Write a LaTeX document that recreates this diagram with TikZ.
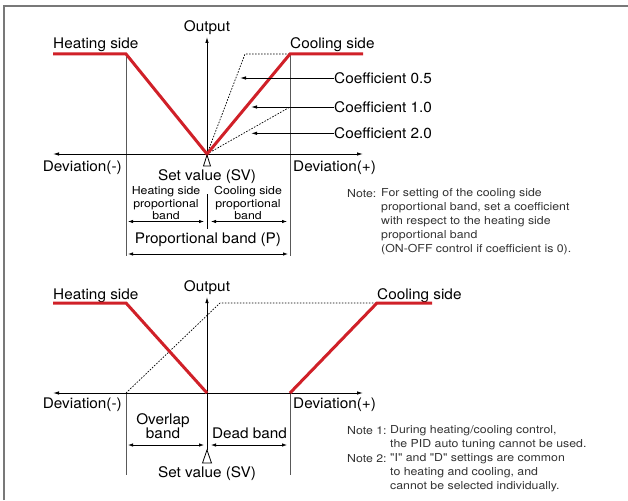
\documentclass[tikz,border=0pt]{standalone}
\usepackage{fontspec}
\setmainfont[FakeStretch=1.05]{TeX Gyre Heros}
\newfontfamily\notefont[FakeStretch=1.12]{TeX Gyre Heros}
\usetikzlibrary{arrows.meta}
\definecolor{heatred}{RGB}{208,32,40}
\definecolor{framegray}{RGB}{120,120,120}

\begin{document}
\begin{tikzpicture}[x = 1pt, y = -1pt]
    \tikzstyle{every node} = [inner sep = 0pt];
    \tikzstyle{lbl} = [font = \fontsize{14.6}{17}\selectfont];
    \tikzstyle{bandlbl} = [font = \notefont\fontsize{11}{12.5}\selectfont, align = center, anchor = north];
    \tikzstyle{notelbl} = [font = \notefont\fontsize{11}{14}\selectfont, text = black!80, align = left];
    \tikzstyle{redline} = [draw = heatred, line width = 3pt];
    \tikzstyle{axisarrow} = [line width = .9pt, -{Latex[length = 6pt, width = 3.5pt]}];
    \tikzstyle{bandarrow} = [line width = .8pt, {Latex[length = 5pt, width = 3.5pt]}-{Latex[length = 5pt, width = 3.5pt]}];
    \tikzstyle{guide} = [draw = black!65, line width = .8pt];
    \tikzstyle{slope} = [dash pattern = on 1.6pt off 1.4pt, line width = .7pt];
    \useasboundingbox (0,0) rectangle (628,500);
    % frame:
    \draw[framegray, line width = 1.6pt] (4,500) -- (4,6) -- (628,6);

    % upper graph, points:
    \coordinate (sv1) at (207,154);
    \coordinate (devl1) at (53,154);
    \coordinate (devr1) at (363,154);
    \coordinate (out1) at (207,37);
    \coordinate (hs1) at (53,54);
    \coordinate (hk1) at (126,54);
    \coordinate (ck1) at (290,54);
    \coordinate (cs1) at (363,54);
    \coordinate (k05) at (245,54);
    \coordinate (k20) at (290,107);
    \coordinate (hb1) at (126,256);
    \coordinate (cb1) at (290,256);
    \coordinate (mt1) at (207,194);
    \coordinate (mb1) at (207,229);
    \coordinate (tip05) at (240,78);
    \coordinate (tip10) at (251,107);
    \coordinate (tip20) at (251,133.3);
    % upper graph, labels:
    \node[lbl, anchor = base] (outlbl1) at (207,32) {Output};
    \node[lbl, anchor = base west] (heat1) at (53,49) {Heating side};
    \node[lbl, anchor = base west] (cool1) at (290,49) {Cooling side};
    \node[lbl, anchor = west] (c05) at (334,78) {Coefficient 0.5};
    \node[lbl, anchor = west] (c10) at (334,107) {Coefficient 1.0};
    \node[lbl, anchor = west] (c20) at (334,133.3) {Coefficient 2.0};
    \node[lbl, anchor = base east] (devm1) at (122,171) {Deviation(-)};
    \node[lbl, anchor = base west] (devp1) at (293,171) {Deviation(+)};
    \node[lbl, anchor = base] (svlbl1) at (207,180) {Set value (SV)};
    \node[bandlbl] (hband) at (166,186.5) {Heating side\\proportional\\band};
    \node[bandlbl] (cband) at (248,186.5) {Cooling side\\proportional\\band};
    \node[lbl, anchor = base] (pband) at (208,243) {Proportional band (P)};
    \node[notelbl, anchor = base west] (note0) at (347,197) {Note:};
    \node[notelbl, anchor = north west] (note0txt) at (381,188.7)
        {For setting of the cooling side\\proportional band, set a coefficient\\with respect to the heating side\\proportional band\\(ON-OFF control if coefficient is 0).};
    % upper graph, lines:
    \draw[guide] (hk1) -- (hb1);
    \draw[guide] (ck1) -- (cb1);
    \draw[line width = .9pt] (mt1) -- (mb1);
    \draw[axisarrow] (sv1) -- (out1);
    \draw[line width = .9pt, {Latex[length = 6pt, width = 3.5pt]}-{Latex[length = 6pt, width = 3.5pt]}] (devl1) -- (devr1);
    \draw[slope] (sv1) -- (k05) -- (ck1);
    \draw[slope] (sv1) -- (k20);
    \draw[redline] (hs1) -- (hk1) -- (sv1) -- (ck1) -- (cs1);
    \draw[axisarrow] (c05.west) -- (tip05);
    \draw[axisarrow] (c10.west) -- (tip10);
    \draw[axisarrow] (c20.west) -- (tip20);
    \draw[line width = .8pt] (207,155) -- (203.5,166) -- (210.5,166) -- cycle;
    \draw[bandarrow] (128,221.5) -- (204,221.5);
    \draw[bandarrow] (211,221.5) -- (287,221.5);
    \draw[bandarrow] (128,254) -- (288,254);

    % lower graph, points:
    \coordinate (sv2) at (207,393);
    \coordinate (devl2) at (53,393);
    \coordinate (devr2) at (363,393);
    \coordinate (out2) at (207,297);
    \coordinate (hs2) at (53,303);
    \coordinate (hk2) at (126,303);
    \coordinate (ho2) at (126,393);
    \coordinate (dk2) at (220,303);
    \coordinate (co2) at (290,393);
    \coordinate (ck2) at (377,303);
    \coordinate (cs2) at (432,303);
    \coordinate (hb2) at (126,475);
    \coordinate (cb2) at (290,475);
    \coordinate (tri2) at (207,450);
    % lower graph, labels:
    \node[lbl, anchor = base] (outlbl2) at (207,291) {Output};
    \node[lbl, anchor = base west] (heat2) at (53,299) {Heating side};
    \node[lbl, anchor = base west] (cool2) at (377,299) {Cooling side};
    \node[lbl, anchor = base east] (devm2) at (122,408) {Deviation(-)};
    \node[lbl, anchor = base west] (devp2) at (293,408) {Deviation(+)};
    \node[lbl, align = center, anchor = north, font = \fontsize{14.6}{14.5}\selectfont] (overlap) at (163,413) {Overlap\\band};
    \node[lbl, anchor = base] (dead) at (249.5,438) {Dead band};
    \node[lbl, anchor = base] (svlbl2) at (207,477.5) {Set value (SV)};
    \node[notelbl, anchor = base west] (note1) at (347,434) {Note 1:};
    \node[notelbl, anchor = north west] (note1txt) at (390,425.7)
        {During heating/cooling control,\\the PID auto tuning cannot be used.};
    \node[notelbl, anchor = base west] (note2) at (347,462) {Note 2:};
    \node[notelbl, anchor = north west] (note2txt) at (390,453.7)
        {"I" and "D" settings are common\\to heating and cooling, and\\cannot be selected individually.};
    % lower graph, lines:
    \draw[guide] (ho2) -- (hb2);
    \draw[guide] (co2) -- (cb2);
    \draw[line width = .9pt] (sv2) -- (tri2);
    \draw[axisarrow] (sv2) -- (out2);
    \draw[line width = .9pt, {Latex[length = 6pt, width = 3.5pt]}-{Latex[length = 6pt, width = 3.5pt]}] (devl2) -- (devr2);
    \draw[slope] (ho2) -- (dk2) -- (ck2);
    \draw[redline] (hs2) -- (hk2) -- (sv2);
    \draw[redline] (co2) -- (ck2) -- (cs2);
    \draw[line width = .8pt] (tri2) -- (202.5,463) -- (211.5,463) -- cycle;
    \draw[bandarrow] (128,445) -- (204,445);
    \draw[bandarrow] (211,445) -- (287,445);
\end{tikzpicture}
\end{document}
